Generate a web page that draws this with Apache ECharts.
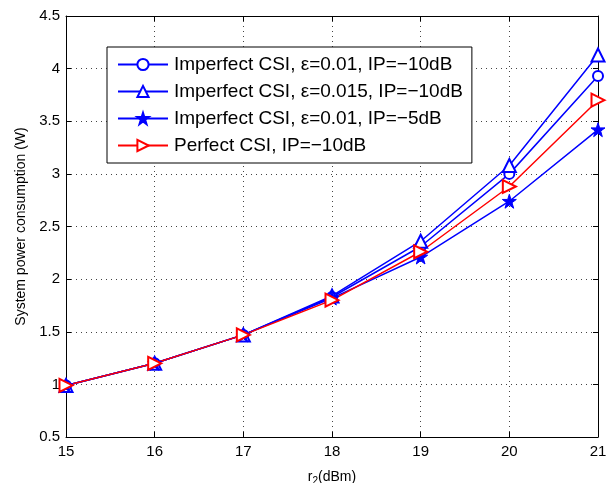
<!DOCTYPE html>
<html>
<head>
<meta charset="utf-8">
<script src="https://cdn.jsdelivr.net/npm/echarts@6/dist/echarts.min.js"></script>
<style>
  html, body { margin: 0; padding: 0; background: #fff; }
  #chart { width: 615px; height: 483px; }
</style>
</head>
<body>
<div id="chart"></div>
<script>
// r2 in dBm
const r2 = [15, 16, 17, 18, 19, 20, 21];

// System power consumption (W)
const imperfectEps001IP10 = [0.99, 1.20, 1.47, 1.83, 2.31, 3.00, 3.93];
const imperfectEps0015IP10 = [0.99, 1.20, 1.47, 1.84, 2.36, 3.08, 4.13];
const imperfectEps001IP5 = [0.99, 1.20, 1.47, 1.82, 2.21, 2.74, 3.42];
const perfectIP10 = [0.99, 1.20, 1.47, 1.80, 2.26, 2.88, 3.70];

const seriesNames = [
  'Imperfect CSI, \u03B5=0.01, IP=\u221210dB',
  'Imperfect CSI, \u03B5=0.015, IP=\u221210dB',
  'Imperfect CSI, \u03B5=0.01, IP=\u22125dB',
  'Perfect CSI, IP=\u221210dB'
];

const starPath = 'path://M50,0 L61.8,35.4 L100,35.4 L69.1,57.3 L80.9,95.1 L50,72.4 L19.1,95.1 L30.9,57.3 L0,35.4 L38.2,35.4 Z';

const FONT = '"Liberation Sans", Arial, Helvetica, sans-serif';
const BLUE = '#0000ff';
const RED = '#ff0000';

function pairs(ys) { return r2.map((x, i) => [x, ys[i]]); }

const chart = echarts.init(document.getElementById('chart'), null, { renderer: 'canvas' });

const gridDots = { show: true, lineStyle: { color: '#444', width: 1, type: [1, 4] } };

chart.setOption({
  animation: false,
  backgroundColor: '#fff',
  grid: { left: 66, right: 17, top: 16, bottom: 46, outerBoundsMode: 'none', containLabel: false },
  legend: {
    orient: 'vertical',
    left: 107,
    top: 47,
    padding: [8, 9, 8, 10],
    itemGap: 8,
    itemWidth: 50,
    itemHeight: 14,
    borderColor: '#000',
    borderWidth: 1,
    backgroundColor: '#fff',
    textStyle: { fontFamily: FONT, fontSize: 19, color: '#000', padding: [0, 0, 0, 1] },
    data: seriesNames
  },
  xAxis: [
    {
      type: 'value', min: 15, max: 21, interval: 1,
      name: '{r|r}{s|2}{r|(dBm)}',
      nameLocation: 'middle', nameGap: 31,
      nameTextStyle: {
        rich: {
          r: { fontFamily: FONT, fontSize: 14, color: '#000' },
          s: { fontFamily: FONT, fontSize: 10, color: '#000', verticalAlign: 'bottom', padding: [8, 0, 0, 0] }
        }
      },
      axisLine: { show: true, lineStyle: { color: '#000', width: 1 } },
      axisTick: { show: true, inside: true, length: 5, lineStyle: { color: '#000' } },
      axisLabel: { fontFamily: FONT, fontSize: 15, color: '#000', margin: 7 },
      splitLine: gridDots
    },
    {
      type: 'value', min: 15, max: 21, interval: 1, position: 'top',
      axisLine: { show: true, lineStyle: { color: '#000', width: 1 } },
      axisTick: { show: true, inside: true, length: 5, lineStyle: { color: '#000' } },
      axisLabel: { show: false },
      splitLine: { show: false }
    }
  ],
  yAxis: [
    {
      type: 'value', min: 0.5, max: 4.5, interval: 0.5,
      name: 'System power consumption (W)',
      nameLocation: 'middle', nameGap: 35,
      nameTextStyle: { fontFamily: FONT, fontSize: 14, color: '#000' },
      axisLine: { show: true, lineStyle: { color: '#000', width: 1 } },
      axisTick: { show: true, inside: true, length: 5, lineStyle: { color: '#000' } },
      axisLabel: { fontFamily: FONT, fontSize: 15, color: '#000', margin: 6 },
      splitLine: gridDots
    },
    {
      type: 'value', min: 0.5, max: 4.5, interval: 0.5, position: 'right',
      axisLine: { show: true, lineStyle: { color: '#000', width: 1 } },
      axisTick: { show: true, inside: true, length: 5, lineStyle: { color: '#000' } },
      axisLabel: { show: false },
      splitLine: { show: false }
    }
  ],
  series: [
    {
      name: seriesNames[0], type: 'line', data: pairs(imperfectEps001IP10),
      symbol: 'emptyCircle', symbolSize: 10,
      lineStyle: { color: BLUE, width: 1.5 },
      itemStyle: { color: BLUE, borderColor: BLUE, borderWidth: 1.5 }
    },
    {
      name: seriesNames[1], type: 'line', data: pairs(imperfectEps0015IP10),
      symbol: 'emptyTriangle', symbolSize: 13,
      lineStyle: { color: BLUE, width: 1.5 },
      itemStyle: { color: BLUE, borderColor: BLUE, borderWidth: 1.5 }
    },
    {
      name: seriesNames[2], type: 'line', data: pairs(imperfectEps001IP5),
      symbol: starPath, symbolSize: 14,
      lineStyle: { color: BLUE, width: 1.5 },
      itemStyle: { color: BLUE, borderColor: BLUE, borderWidth: 1 }
    },
    {
      name: seriesNames[3], type: 'line', data: pairs(perfectIP10),
      symbol: 'emptyTriangle', symbolSize: 13, symbolRotate: -90,
      lineStyle: { color: RED, width: 1.5 },
      itemStyle: { color: RED, borderColor: RED, borderWidth: 1.5 }
    }
  ]
});
</script>
</body>
</html>
